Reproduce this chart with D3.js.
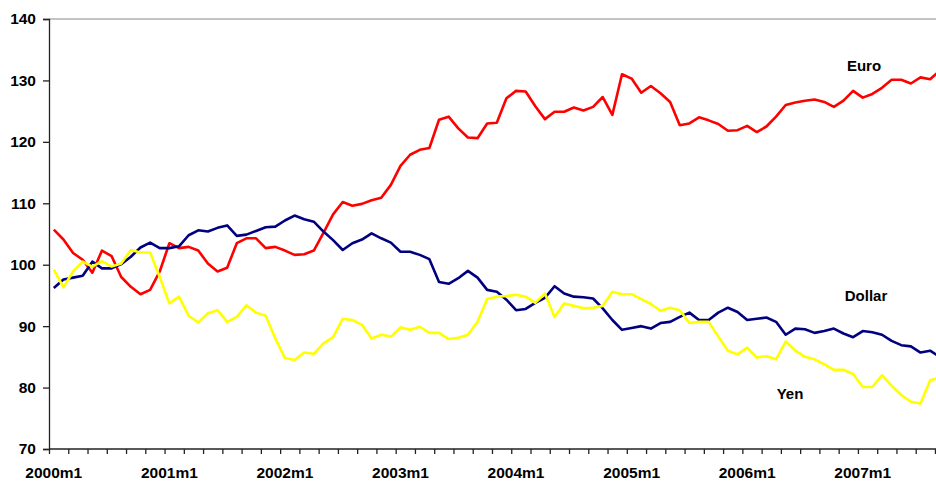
<!DOCTYPE html>
<meta charset="utf-8">
<body style="margin:0;background:#fff">
<script src="https://cdn.jsdelivr.net/npm/d3@7"></script>
<svg></svg>
<script>
    var width = 936;
    var height = 482;

    // monthly index values, 2000m1 .. 2007m9
    var euro = [105.7,104.1,101.9,100.8,98.7,102.3,101.4,98.0,96.4,95.2,95.9,98.9,
                103.5,102.7,102.9,102.3,100.2,98.9,99.5,103.5,104.3,104.3,102.7,102.9,
                102.3,101.6,101.7,102.3,105.2,108.2,110.2,109.6,109.9,110.5,110.9,113.0,
                116.1,117.9,118.7,119.0,123.6,124.1,122.2,120.7,120.6,123.0,123.1,127.1,
                128.3,128.2,125.8,123.7,124.9,124.9,125.6,125.1,125.7,127.3,124.4,131.0,
                130.3,128.0,129.1,127.9,126.5,122.7,123.0,124.0,123.5,122.9,121.8,121.9,
                122.6,121.6,122.5,124.1,126.0,126.4,126.7,126.9,126.5,125.7,126.7,128.3,
                127.2,127.8,128.8,130.1,130.1,129.5,130.5,130.2,131.6];
    var dollar = [96.2,97.6,97.9,98.2,100.5,99.4,99.4,100.1,101.3,102.8,103.6,102.7,
                  102.7,103.0,104.8,105.6,105.4,106.0,106.4,104.7,104.9,105.5,106.1,106.2,
                  107.2,108.0,107.4,107.0,105.4,104.0,102.4,103.5,104.1,105.1,104.3,103.6,
                  102.1,102.1,101.6,100.9,97.2,96.9,97.8,99.0,97.9,95.9,95.6,94.3,
                  92.6,92.8,93.8,94.6,96.5,95.3,94.8,94.7,94.5,92.9,91.0,89.4,
                  89.7,90.0,89.6,90.5,90.7,91.5,92.2,91.0,91.0,92.2,93.0,92.3,
                  91.0,91.2,91.4,90.7,88.6,89.6,89.5,88.9,89.2,89.6,88.8,88.2,
                  89.2,89.0,88.6,87.6,86.9,86.7,85.7,86.0,85.0];
    var yen = [99.2,96.3,98.9,100.5,99.7,100.6,99.7,100.2,102.4,102.0,102.0,98.0,
               93.7,94.8,91.7,90.6,92.1,92.6,90.7,91.5,93.4,92.2,91.7,88.0,
               84.8,84.5,85.7,85.5,87.2,88.2,91.2,91.0,90.2,88.0,88.6,88.3,
               89.8,89.4,89.9,88.9,88.9,87.9,88.1,88.6,90.7,94.4,94.8,94.9,
               95.1,94.8,93.8,95.3,91.5,93.7,93.3,92.9,93.0,93.3,95.6,95.2,
               95.2,94.4,93.6,92.5,93.0,92.6,90.5,90.7,90.7,88.3,86.0,85.4,
               86.5,84.9,85.1,84.6,87.5,86.0,85.0,84.6,83.8,82.9,82.9,82.2,
               80.1,80.1,82.0,80.3,78.8,77.7,77.4,81.2,81.6];

    var yearLabels = ["2000m1","2001m1","2002m1","2003m1","2004m1","2005m1","2006m1","2007m1"];
    var yTicks = [70, 80, 90, 100, 110, 120, 130, 140];

    var series = [
        {name: "Euro", values: euro, color: "#ff0000", lx: 864, ly: 71},
        {name: "Dollar", values: dollar, color: "#000080", lx: 866, ly: 301},
        {name: "Yen", values: yen, color: "#ffff00", lx: 790, ly: 399}
    ];

    var nMonths = euro.length;
    var plotLeft = 49, plotTop = 19, plotBottom = 449;
    var step = 9.63;

    var svg = d3.select("svg")
        .attr("width", width)
        .attr("height", height)
        .style("font-family", "Arial, 'Liberation Sans', sans-serif")
        .style("font-weight", "bold");

    var x = d3.scaleLinear().domain([0, nMonths]).range([plotLeft, plotLeft + nMonths * step]);
    var y = d3.scaleLinear().domain([70, 140]).range([plotBottom, plotTop]);

    // top border line
    svg.append("line")
        .attr("x1", plotLeft).attr("x2", width)
        .attr("y1", y(140)).attr("y2", y(140))
        .attr("stroke", "#888").attr("stroke-width", 1);

    var line = d3.line()
        .x(function(d, i){ return x(i + 0.5); })
        .y(function(d){ return y(d); });

    svg.selectAll("path.series")
        .data(series)
        .enter().append("path")
        .attr("class", "series")
        .attr("d", function(d){ return line(d.values); })
        .attr("fill", "none")
        .attr("stroke", function(d){ return d.color; })
        .attr("stroke-width", 2.6)
        .attr("stroke-linejoin", "round");

    // y axis
    var yAxis = svg.append("g")
        .attr("transform", "translate(" + plotLeft + ",0)")
        .call(d3.axisLeft(y).tickValues(yTicks).tickSize(6).tickPadding(7));
    yAxis.selectAll("text").style("font-size", "15.5px").attr("fill", "#000");
    yAxis.attr("font-family", null);
    yAxis.selectAll("line, path").attr("stroke", "#222").attr("stroke-width", 1.3);

    // x axis, ticks every 2 months between categories
    var xAxis = svg.append("g")
        .attr("transform", "translate(0," + plotBottom + ")")
        .call(d3.axisBottom(x).tickValues(d3.range(0, nMonths + 1, 2)).tickSize(5).tickFormat(""));
    xAxis.select("path.domain").attr("d", "M" + plotLeft + ",0H" + width);
    xAxis.selectAll("line, path").attr("stroke", "#222").attr("stroke-width", 1.3);

    svg.selectAll("text.xlab")
        .data(yearLabels)
        .enter().append("text")
        .attr("class", "xlab")
        .attr("x", function(d, i){ return x(i * 12 + 0.5); })
        .attr("y", 478)
        .attr("text-anchor", "middle")
        .style("font-size", "15.5px")
        .text(function(d){ return d; });

    // series labels
    svg.selectAll("text.slab")
        .data(series)
        .enter().append("text")
        .attr("class", "slab")
        .attr("x", function(d){ return d.lx; })
        .attr("y", function(d){ return d.ly; })
        .attr("text-anchor", "middle")
        .style("font-size", "15px")
        .text(function(d){ return d.name; });
</script>
